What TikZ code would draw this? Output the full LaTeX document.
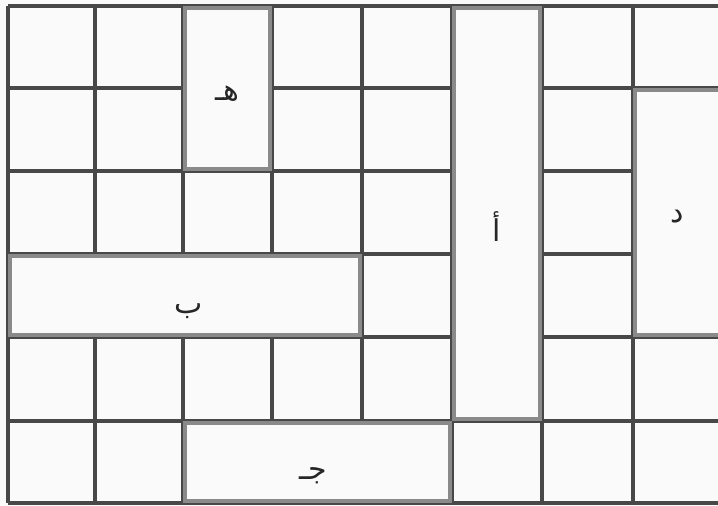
\documentclass[tikz,border=0pt]{standalone}
\usepackage{fontspec}
\usetikzlibrary{fit}
\TeXXeTstate=1
\newfontfamily\arabicfont[Script=Arabic]{DejaVu Sans}
\definecolor{paperbg}{RGB}{250, 250, 250}
\definecolor{gridline}{RGB}{72, 72, 72}
\definecolor{bandgray}{RGB}{138, 138, 138}
\tikzset{
  cellline/.style = {draw=gridline, line width=1.8pt},
  domino/.style   = {rectangle, draw=gridline, line width=1.8pt, fill=paperbg, inner sep=0pt},
  band/.style     = {draw=bandgray, line width=2.2pt},
  letter/.style   = {inner sep=0pt, font=\arabicfont\fontsize{15}{16}\selectfont, text=black!85},
}
\begin{document}
\begin{tikzpicture}[x=0.5pt, y=-0.5pt]

% page
\useasboundingbox (0,0) rectangle (718,506);
\fill[paperbg] (0,0) rectangle (718,506);

% grid lines
\foreach \gx in {8,95,183,272,362,452,542,633,722}
  \draw[cellline] (\gx,6) -- (\gx,503);
\foreach \gy in {6,88,171,254,337,421,503}
  \draw[cellline] (8,\gy) -- (722,\gy);

% dominoes
\node[domino, fit={(183,6) (272,171)}]   (he)   {};
\node[domino, fit={(452,6) (542,421)}]   (alif) {};
\node[domino, fit={(633,88) (722,337)}]  (dal)  {};
\node[domino, fit={(8,254) (362,337)}]   (ba)   {};
\node[domino, fit={(183,421) (452,503)}] (jim)  {};

% inner grey band
\foreach \d in {he,alif,dal,ba,jim}
  \draw[band] ([xshift=2pt,yshift=-2pt]\d.north west) rectangle ([xshift=-2pt,yshift=2pt]\d.south east);

% letters
\node[letter] (heL)   at ([yshift=-2.5pt]he.center)   {\beginR هـ\endR};
\node[letter] (alifL) at ([yshift=-6.5pt]alif.center) {\beginR أ\endR};
\node[letter] (dalL)  at ([yshift=-2pt]dal.center)  {\beginR د\endR};
\node[letter] (baL)   at ([xshift=2pt,yshift=-8pt]ba.center) {\beginR ب\endR};
\node[letter] (jimL)  at ([xshift=-2pt,yshift=-7pt]jim.center) {\beginR جـ\endR};

\end{tikzpicture}
\end{document}
